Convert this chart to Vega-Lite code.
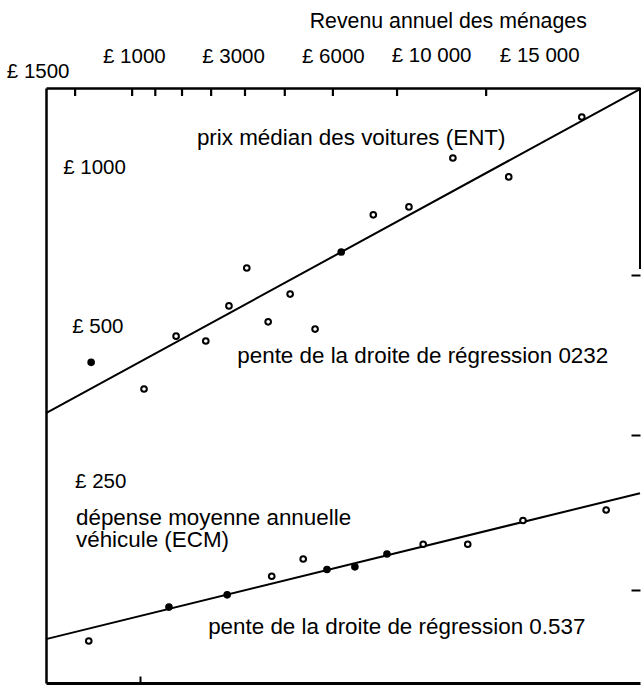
{
  "$schema": "https://vega.github.io/schema/vega-lite/v6.json",
  "width": 594,
  "height": 595,
  "autosize": {"type": "none"},
  "padding": {"left": 46, "top": 88, "right": 2, "bottom": 2},
  "background": "white",
  "config": {
    "view": {"stroke": null},
    "font": "Liberation Sans",
    "text": {"font": "Liberation Sans", "fontSize": 21, "color": "black", "align": "left", "baseline": "middle"}
  },
  "resolve": {"axis": {"x": "independent", "y": "independent"}},
  "datasets": {
    "points": [
      {"serie": "ENT", "revenu": 7.6, "prix": 424, "classe": "plein"},
      {"serie": "ENT", "revenu": 16.5, "prix": 377, "classe": "creux"},
      {"serie": "ENT", "revenu": 21.9, "prix": 476, "classe": "creux"},
      {"serie": "ENT", "revenu": 26.9, "prix": 466, "classe": "creux"},
      {"serie": "ENT", "revenu": 30.8, "prix": 544, "classe": "creux"},
      {"serie": "ENT", "revenu": 33.8, "prix": 643, "classe": "creux"},
      {"serie": "ENT", "revenu": 37.4, "prix": 507, "classe": "creux"},
      {"serie": "ENT", "revenu": 41.1, "prix": 573, "classe": "creux"},
      {"serie": "ENT", "revenu": 45.3, "prix": 491, "classe": "creux"},
      {"serie": "ENT", "revenu": 49.7, "prix": 690, "classe": "plein"},
      {"serie": "ENT", "revenu": 55.1, "prix": 813, "classe": "creux"},
      {"serie": "ENT", "revenu": 61.1, "prix": 842, "classe": "creux"},
      {"serie": "ENT", "revenu": 68.5, "prix": 1045, "classe": "creux"},
      {"serie": "ENT", "revenu": 77.9, "prix": 961, "classe": "creux"},
      {"serie": "ENT", "revenu": 90.2, "prix": 1252, "classe": "creux"},
      {"serie": "ECM", "revenu": 7.2, "prix": 124, "classe": "creux"},
      {"serie": "ECM", "revenu": 20.7, "prix": 144, "classe": "plein"},
      {"serie": "ECM", "revenu": 30.5, "prix": 152, "classe": "plein"},
      {"serie": "ECM", "revenu": 38.0, "prix": 165, "classe": "creux"},
      {"serie": "ECM", "revenu": 43.3, "prix": 178, "classe": "creux"},
      {"serie": "ECM", "revenu": 47.3, "prix": 170, "classe": "plein"},
      {"serie": "ECM", "revenu": 52.0, "prix": 172, "classe": "plein"},
      {"serie": "ECM", "revenu": 57.4, "prix": 182, "classe": "plein"},
      {"serie": "ECM", "revenu": 63.5, "prix": 190, "classe": "creux"},
      {"serie": "ECM", "revenu": 71.0, "prix": 190, "classe": "creux"},
      {"serie": "ECM", "revenu": 80.3, "prix": 211, "classe": "creux"},
      {"serie": "ECM", "revenu": 94.3, "prix": 221, "classe": "creux"}
    ],
    "droites": [
      {"serie": "ENT", "revenu": 0, "prix": 339},
      {"serie": "ENT", "revenu": 100, "prix": 1416},
      {"serie": "ECM", "revenu": 0, "prix": 125},
      {"serie": "ECM", "revenu": 100, "prix": 238}
    ],
    "graduations": [
      {"revenu": 4.9}, {"revenu": 14.5}, {"revenu": 18.4}, {"revenu": 22.9}, {"revenu": 27.8},
      {"revenu": 33.5}, {"revenu": 40.2}, {"revenu": 48.3}, {"revenu": 59.1}, {"revenu": 74.1}
    ],
    "textes": [
      {"revenu": 44.4, "prix": 1905, "texte": "Revenu annuel des ménages", "taille": "titre"},
      {"revenu": -6.6, "prix": 1527, "texte": "£ 1500", "taille": "petit"},
      {"revenu": 9.6, "prix": 1633, "texte": "£ 1000", "taille": "petit"},
      {"revenu": 26.3, "prix": 1633, "texte": "£ 3000", "taille": "petit"},
      {"revenu": 43.1, "prix": 1633, "texte": "£ 6000", "taille": "petit"},
      {"revenu": 58.2, "prix": 1640, "texte": "£ 10 000", "taille": "petit"},
      {"revenu": 76.4, "prix": 1640, "texte": "£ 15 000", "taille": "petit"},
      {"revenu": 2.9, "prix": 1000, "texte": "£ 1000", "taille": "petit"},
      {"revenu": 4.4, "prix": 496, "texte": "£ 500", "taille": "petit"},
      {"revenu": 4.9, "prix": 250, "texte": "£ 250", "taille": "petit"},
      {"revenu": 25.4, "prix": 1142, "texte": "prix médian des voitures (ENT)", "taille": "grand"},
      {"revenu": 32.2, "prix": 436, "texte": "pente de la droite de régression 0232", "taille": "grand"},
      {"revenu": 5.05, "prix": 213, "texte": "dépense moyenne annuelle", "taille": "grand"},
      {"revenu": 5.05, "prix": 194, "texte": "véhicule (ECM)", "taille": "grand"},
      {"revenu": 27.3, "prix": 132, "texte": "pente de la droite de régression 0.537", "taille": "grand"}
    ],
    "bord": [
      {"revenu": 100, "prix": 1423, "prix2": 640}
    ]
  },
  "layer": [
    {
      "data": {"name": "droites"},
      "mark": {"type": "line", "color": "black", "strokeWidth": 2},
      "encoding": {
        "x": {
          "field": "revenu", "type": "quantitative",
          "scale": {"domain": [0, 100], "nice": false, "zero": false},
          "axis": {
            "orient": "top", "title": null, "labels": false, "grid": false,
            "ticks": false, "domainColor": "black", "domainWidth": 2.5
          }
        },
        "y": {
          "field": "prix", "type": "quantitative",
          "scale": {"type": "log", "domain": [103, 1423], "nice": false, "zero": false},
          "axis": {
            "orient": "left", "title": null, "labels": false, "grid": false,
            "ticks": false, "domainColor": "black", "domainWidth": 2.5
          }
        },
        "detail": {"field": "serie"}
      }
    },
    {
      "data": {"name": "droites"},
      "mark": {"type": "line", "opacity": 0},
      "encoding": {
        "x": {
          "field": "revenu", "type": "quantitative",
          "axis": {
            "orient": "bottom", "title": null, "labels": false, "grid": false,
            "values": [15.8], "tickSize": -7, "tickColor": "black", "tickWidth": 2,
            "domainColor": "black", "domainWidth": 3
          }
        },
        "y": {
          "field": "prix", "type": "quantitative",
          "axis": {
            "orient": "right", "title": null, "labels": false, "grid": false, "domain": false,
            "values": [155, 308, 623], "tickSize": -9, "tickColor": "black", "tickWidth": 2
          }
        },
        "detail": {"field": "serie"}
      }
    },
    {
      "data": {"name": "graduations"},
      "mark": {"type": "tick", "orient": "vertical", "color": "black", "thickness": 2.2, "size": 8, "opacity": 1},
      "encoding": {
        "x": {"field": "revenu", "type": "quantitative", "axis": null},
        "y": {"value": 4}
      }
    },
    {
      "data": {"name": "bord"},
      "mark": {"type": "rule", "color": "black", "strokeWidth": 2},
      "encoding": {
        "x": {"field": "revenu", "type": "quantitative", "axis": null},
        "y": {"field": "prix", "type": "quantitative", "axis": null},
        "y2": {"field": "prix2"}
      }
    },
    {
      "data": {"name": "points"},
      "mark": {"type": "point", "shape": "circle", "size": 32, "strokeWidth": 2, "opacity": 1, "color": "black"},
      "encoding": {
        "x": {"field": "revenu", "type": "quantitative", "axis": null},
        "y": {"field": "prix", "type": "quantitative", "axis": null},
        "fill": {
          "field": "classe", "type": "nominal",
          "scale": {"domain": ["plein", "creux"], "range": ["black", "white"]},
          "legend": null
        },
        "stroke": {"value": "black"}
      }
    },
    {
      "data": {"name": "textes"},
      "transform": [{"filter": "datum.taille === 'grand'"}],
      "mark": {"type": "text", "align": "left", "baseline": "middle", "color": "black", "fontSize": 22.4},
      "encoding": {
        "x": {"field": "revenu", "type": "quantitative", "axis": null},
        "y": {"field": "prix", "type": "quantitative", "axis": null},
        "text": {"field": "texte"}
      }
    },
    {
      "data": {"name": "textes"},
      "transform": [{"filter": "datum.taille === 'titre'"}],
      "mark": {"type": "text", "align": "left", "baseline": "middle", "color": "black", "fontSize": 21.3},
      "encoding": {
        "x": {"field": "revenu", "type": "quantitative", "axis": null},
        "y": {"field": "prix", "type": "quantitative", "axis": null},
        "text": {"field": "texte"}
      }
    },
    {
      "data": {"name": "textes"},
      "transform": [{"filter": "datum.taille === 'petit'"}],
      "mark": {"type": "text", "align": "left", "baseline": "middle", "color": "black", "fontSize": 20.5},
      "encoding": {
        "x": {"field": "revenu", "type": "quantitative", "axis": null},
        "y": {"field": "prix", "type": "quantitative", "axis": null},
        "text": {"field": "texte"}
      }
    }
  ]
}
